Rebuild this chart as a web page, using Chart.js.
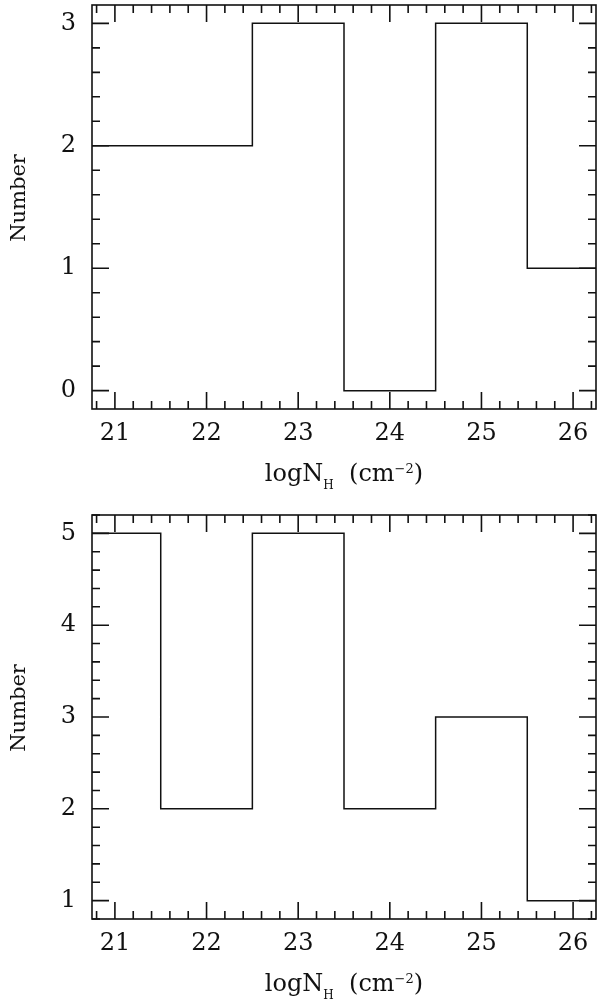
<!DOCTYPE html>
<html>
<head>
<meta charset="utf-8">
<script src="https://cdn.jsdelivr.net/npm/chart.js@4.4.1/dist/chart.umd.min.js"></script>
<style>
  html,body{margin:0;padding:0;background:#fff;}
  .panel{position:absolute;left:0;width:600px;}
  #p1{top:0;height:510px;}
  #p2{top:510px;height:494px;}
</style>
</head>
<body>
<div class="panel" id="p1"><canvas id="c1" width="600" height="510"></canvas></div>
<div class="panel" id="p2"><canvas id="c2" width="600" height="494"></canvas></div>
<script>
// histogram bins (logN_H bin centres, width 1)
const binCentres = [21, 22, 23, 24, 25, 26];
const countsTop = [2, 2, 3, 0, 3, 1];
const countsBottom = [5, 2, 5, 2, 3, 1];

const xTicks = [21, 22, 23, 24, 25, 26];
const yTicksTop = [0, 1, 2, 3];
const yTicksBottom = [1, 2, 3, 4, 5];

const X_MIN = 20.75, X_MAX = 26.25;
const FONT = "'DejaVu Serif', serif";
const INK = '#111';

// step points from bin left edges, closing at the last right edge
function stepData(counts){
  const pts = binCentres.map((c,i)=>({x:c-0.5, y:counts[i]}));
  pts.push({x:binCentres[binCentres.length-1]+0.5, y:counts[counts.length-1]});
  return pts;
}

// frame with inward ticks on all four sides + axis titles
const framePlugin = {
  id:'frame',
  afterDraw(chart){
    const {ctx, chartArea:a, scales:{x, y}} = chart;
    ctx.save();
    ctx.strokeStyle = INK; ctx.lineWidth = 1.6;
    ctx.strokeRect(a.left, a.top, a.right-a.left, a.bottom-a.top);
    ctx.beginPath();
    const major = 17, minor = 8;
    for(let v=Math.ceil(X_MIN*5)/5; v<=X_MAX+1e-9; v+=0.2){
      const px = x.getPixelForValue(v);
      const len = Math.abs(v-Math.round(v))<1e-6 ? major : minor;
      ctx.moveTo(px, a.bottom); ctx.lineTo(px, a.bottom-len);
      ctx.moveTo(px, a.top); ctx.lineTo(px, a.top+len);
    }
    for(let v=Math.ceil(y.min*5)/5; v<=y.max+1e-9; v+=0.2){
      const py = y.getPixelForValue(v);
      const len = Math.abs(v-Math.round(v))<1e-6 ? major : minor;
      ctx.moveTo(a.left, py); ctx.lineTo(a.left+len, py);
      ctx.moveTo(a.right, py); ctx.lineTo(a.right-len, py);
    }
    ctx.stroke();

    // y title
    ctx.fillStyle = INK;
    ctx.font = '21px '+FONT;
    ctx.save();
    ctx.translate(25, (a.top+a.bottom)/2 - 9);
    ctx.rotate(-Math.PI/2);
    ctx.textAlign = 'center'; ctx.textBaseline = 'alphabetic';
    ctx.fillText('Number', 0, 0);
    ctx.restore();

    // x title: logN_H (cm^-2)
    const parts = [
      {t:'logN', f:24, dy:0},
      {t:'H', f:12, dy:8},
      {t:'  (cm', f:24, dy:0},
      {t:'\u22122', f:13, dy:-8},
      {t:')', f:24, dy:0}
    ];
    let w = 0;
    parts.forEach(p=>{ ctx.font = p.f+'px '+FONT; p.w = ctx.measureText(p.t).width; w += p.w; });
    let cx = (a.left+a.right)/2 - w/2;
    const base = a.bottom + 72;
    ctx.textAlign = 'left'; ctx.textBaseline = 'alphabetic';
    parts.forEach(p=>{ ctx.font = p.f+'px '+FONT; ctx.fillText(p.t, cx, base+p.dy); cx += p.w; });
    ctx.restore();
  }
};

function makeChart(id, counts, yTicks, yMin, yMax, h){
  return new Chart(document.getElementById(id), {
    type:'line',
    data:{datasets:[{
      data:stepData(counts),
      stepped:'before',
      borderColor:INK, borderWidth:1.5,
      pointRadius:0, fill:false
    }]},
    options:{
      responsive:false, animation:false,
      layout:{padding:{top:5, right:4, left:0, bottom:h-409-50}},
      plugins:{legend:{display:false}, tooltip:{enabled:false}},
      scales:{
        x:{type:'linear', min:X_MIN, max:X_MAX,
           grid:{display:false, drawTicks:false}, border:{display:false},
           afterFit:s=>{ s.height = 50; s.paddingLeft = 0; s.paddingRight = 0; },
           afterBuildTicks:s=>{ s.ticks = xTicks.map(v=>({value:v})); },
           ticks:{color:INK, padding:10, maxRotation:0, font:{family:FONT, size:24}}},
        y:{type:'linear', min:yMin, max:yMax,
           grid:{display:false, drawTicks:false}, border:{display:false},
           afterFit:s=>{ s.width = 92; s.paddingTop = 0; s.paddingBottom = 0; },
           afterBuildTicks:s=>{ s.ticks = yTicks.map(v=>({value:v})); },
           ticks:{color:INK, padding:16, font:{family:FONT, size:24}}}
      }
    },
    plugins:[framePlugin]
  });
}

makeChart('c1', countsTop, yTicksTop, -0.15, 3.15, 510);
makeChart('c2', countsBottom, yTicksBottom, 0.8, 5.2, 494);
</script>
</body>
</html>
